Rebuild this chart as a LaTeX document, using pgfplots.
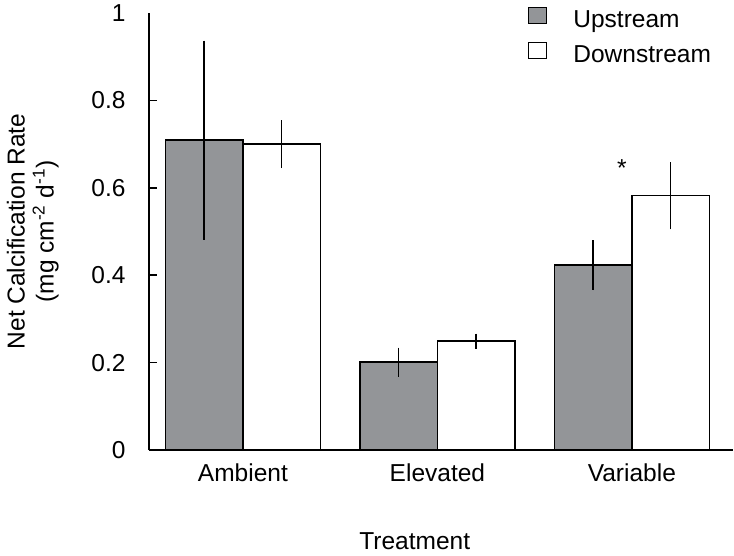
\documentclass[border=0pt]{standalone}
\usepackage{fontspec}
\setmainfont{Liberation Sans}
\usepackage{pgfplots}
\usepackage{pgfplotstable}
\pgfplotsset{compat=1.18}
\definecolor{bargray}{RGB}{147,149,152}
\pgfplotstableread{
x  up     uperr   down   downerr
0  0.709  0.228   0.700  0.055
1  0.201  0.033   0.249  0.0175
2  0.423  0.057   0.582  0.077
}\datatab
\begin{document}
\begin{tikzpicture}[font=\fontsize{24.5bp}{29bp}\selectfont]
\useasboundingbox (0,0) rectangle (734bp,556bp);
\begin{axis}[
  at={(149bp,106bp)}, anchor=south west,
  scale only axis, width=584bp, height=437bp,
  xmin=-0.483, xmax=2.52, ymin=0, ymax=1,
  axis x line=bottom, axis y line=left,
  axis line style={-, line width=1.6bp},
  xtick={0,1,2}, xticklabels={Ambient,Elevated,Variable},
  x tick style={draw=none},
  xticklabel style={yshift=-2bp},
  ytick={0,0.2,0.4,0.6,0.8},
  extra y ticks={1}, extra y tick style={major tick length=0pt},
  yticklabel style={xshift=-20bp},
  y tick style={line width=1.6bp, black},
  tick align=inside, major tick length=8bp,
  /pgf/number format/assume math mode=true,
  ylabel={Net Calcification Rate\\(mg cm\textsuperscript{-2} d\textsuperscript{-1})},
  ylabel style={at={(axis description cs:-0.199,0.5)}, anchor=center, align=center},
  xlabel={Treatment},
  xlabel style={at={(axis description cs:0.455,-0.208)}, anchor=center},
  ybar, bar width=77.5bp,
  legend style={at={(axis description cs:0.649,1.014)}, anchor=north west,
    draw=none, fill=none, inner sep=0pt, row sep=13bp,
    nodes={inner sep=0pt, anchor=west},
    /tikz/every odd column/.style={column sep=26bp}},
  legend cell align=left,
]
\addplot[bar shift=-38.75bp, fill=bargray, draw=black, line width=1.6bp,
  legend image code/.code={\draw[fill=bargray,draw=black,line width=1.2bp] (0bp,-4bp) rectangle (18bp,12bp);},
  error bars/.cd, y dir=both, y explicit, error mark=none,
  error bar style={line width=1.6bp, black}]
  table[x=x, y=up, y error=uperr]{\datatab};
\addlegendentry{Upstream}
\addplot[bar shift=38.75bp, fill=white, draw=black, line width=1.6bp,
  legend image code/.code={\draw[fill=white,draw=black,line width=1.2bp] (0bp,-4bp) rectangle (18bp,12bp);},
  error bars/.cd, y dir=both, y explicit, error mark=none,
  error bar style={line width=1.6bp, black}]
  table[x=x, y=down, y error=downerr]{\datatab};
\addlegendentry{Downstream}
\node at (axis cs:1.949,0.645) {*};
\end{axis}
\end{tikzpicture}
\end{document}
